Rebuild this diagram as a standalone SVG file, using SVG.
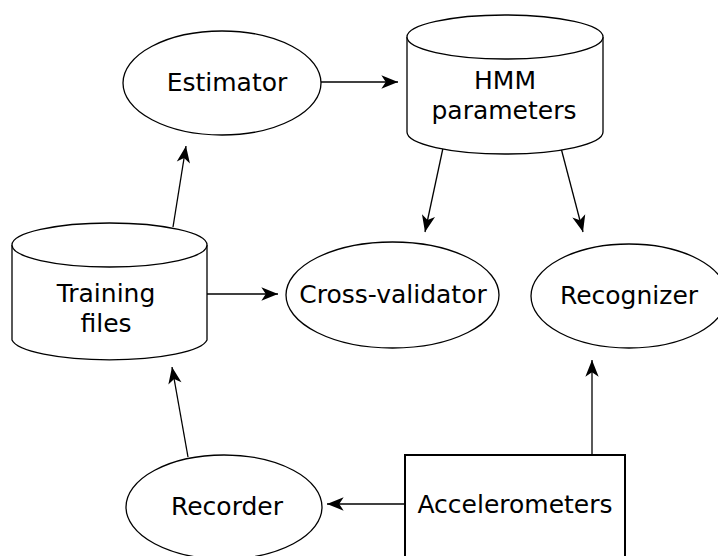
<svg xmlns="http://www.w3.org/2000/svg" width="718" height="556" viewBox="0 0 718 556">
<defs>
<marker id="ah" markerUnits="userSpaceOnUse" markerWidth="20" markerHeight="20" viewBox="-16 -8 18 16" refX="0" refY="0" orient="auto">
<path d="M0,0 L-15,-6 L-11,0 L-15,6 Z" fill="#000"/>
</marker>
</defs>
<style>
.s{fill:#fff;stroke:#000;stroke-width:1.3}
.b{fill:#fff;stroke:#000;stroke-width:2}
.t{font-family:"DejaVu Sans",sans-serif;font-size:25px;fill:#000;text-anchor:middle}
.c{fill:none;stroke:#000;stroke-width:1.3;marker-end:url(#ah)}
</style>
<rect width="718" height="556" fill="#fff"/>
<g id="connectors">
<line class="c" x1="321" y1="82" x2="398" y2="82"/>
<line class="c" x1="173" y1="227" x2="186" y2="146"/>
<line class="c" x1="207" y1="294" x2="278" y2="294"/>
<line class="c" x1="443" y1="148" x2="425" y2="232"/>
<line class="c" x1="561" y1="148" x2="583" y2="232"/>
<line class="c" x1="188" y1="457" x2="172" y2="367"/>
<line class="c" x1="405" y1="504" x2="327" y2="504"/>
<line class="c" x1="592" y1="455" x2="592" y2="360"/>
</g>
<g id="estimator">
<ellipse class="s" cx="222" cy="83" rx="99" ry="52"/>
<text class="t" x="227" y="91">Estimator</text>
</g>
<g id="hmm">
<path class="s" d="M407,37 L407,132 A98,22 0 0 0 603,132 L603,37"/>
<ellipse class="s" cx="505" cy="37" rx="98" ry="22"/>
<text class="t" x="505" y="89">HMM</text>
<text class="t" x="504" y="119">parameters</text>
</g>
<g id="training">
<path class="s" d="M12,245 L12,340 A98,22 0 0 0 207,340 L207,245"/>
<ellipse class="s" cx="109.5" cy="245" rx="97.5" ry="22"/>
<text class="t" x="106" y="302">Training</text>
<text class="t" x="106" y="332">files</text>
</g>
<g id="crossvalidator">
<ellipse class="s" cx="392.5" cy="295" rx="106.5" ry="53"/>
<text class="t" x="393" y="303">Cross-validator</text>
</g>
<g id="recognizer">
<ellipse class="s" cx="629" cy="296" rx="98" ry="52"/>
<text class="t" x="629" y="304">Recognizer</text>
</g>
<g id="recorder">
<ellipse class="s" cx="224" cy="507" rx="98" ry="52"/>
<text class="t" x="227" y="515">Recorder</text>
</g>
<g id="accelerometers">
<rect class="b" x="405" y="455" width="220" height="120"/>
<text class="t" x="515" y="513">Accelerometers</text>
</g>
</svg>
